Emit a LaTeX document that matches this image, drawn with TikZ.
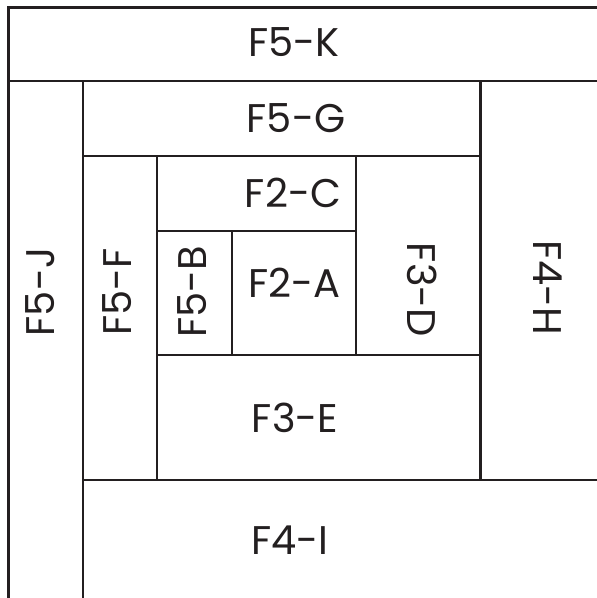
\documentclass[tikz,border=0pt]{standalone}
\usepackage{fontspec}
\setmainfont{Poppins}
\definecolor{ink}{HTML}{231F20}
\begin{document}
\begin{tikzpicture}[x=1pt,y=-1pt,
  seam/.style={draw=ink,line width=2.1pt,line cap=rect},
  lab/.style={font=\fontsize{40}{40}\selectfont,text=ink,inner sep=0pt,anchor=center}]
\useasboundingbox (0,0) rectangle (597,598);
% outer border
\draw[seam] (597,7.5) -- (8.5,7.5) -- (8.5,598);
% seams
\draw[seam] (8.5,81) -- (597,81);
\draw[seam] (82.7,81) -- (82.7,598);
\draw[seam] (82.7,156) -- (480.5,156);
\draw[seam] (480.5,81) -- (480.5,480);
\draw[seam] (82.7,480) -- (597,480);
\draw[seam] (156.7,156) -- (156.7,480);
\draw[seam] (156.7,231) -- (355.7,231);
\draw[seam] (355.7,156) -- (355.7,355);
\draw[seam] (156.7,355) -- (480.5,355);
\draw[seam] (231.7,231) -- (231.7,355);
% labels
\node[lab] (k) at (294,42) {F5-K};
\node[lab] (g) at (296,118) {F5-G};
\node[lab] (c) at (293,193) {F2-C};
\node[lab] (a) at (294.5,283) {F2-A};
\node[lab] (e) at (295,418) {F3-E};
\node[lab] (i) at (290,540) {F4-I};
\node[lab,rotate=90] (j) at (40,292) {F5-J};
\node[lab,rotate=90] (f) at (117,292) {F5-F};
\node[lab,rotate=90] (b) at (192,292) {F5-B};
\node[lab,rotate=-90] (d) at (422,290) {F3-D};
\node[lab,rotate=-90] (h) at (548,288) {F4-H};
\end{tikzpicture}
\end{document}
